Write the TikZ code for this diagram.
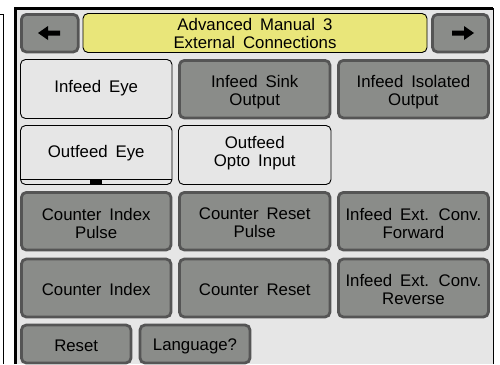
\documentclass[tikz,border=0pt]{standalone}
\usepackage{fontspec}
\setmainfont[WordSpace=1.7]{Liberation Sans}
\definecolor{panelbg}{HTML}{E6E6E6}
\definecolor{btngray}{HTML}{8A8C89}
\definecolor{btnedge}{HTML}{555555}
\definecolor{titley}{HTML}{E9E67A}
\tikzset{
  grayb/.style={rectangle,draw=btnedge,fill=btngray,line width=2.8pt,rounded corners=5pt,inner sep=0pt},
  whiteb/.style={rectangle,draw=black,fill=panelbg,line width=0.9pt,rounded corners=5pt,inner sep=0pt},
  titleb/.style={whiteb,fill=titley},
  lbl/.style={align=center,inner sep=0pt,text=black,font=\fontsize{16.8}{18}\selectfont},
}
% style, name, x0, x1, y0, y1, downward text shift, text
\newcommand{\btn}[8]{\node[#1,minimum width=#4-#3,minimum height=#6-#5,label={[lbl,yshift=-#7pt]center:{#8}}] (#2) at ({(#3+#4)/2},{(#5+#6)/2}) {};}
\begin{document}
\begin{tikzpicture}[x=1pt,y=-1pt]
\useasboundingbox (0,0) rectangle (500,364);
\fill[white] (0,0) rectangle (500,364);
\draw[black,line width=1pt] (0,14.5) -- (3.5,14.5) -- (3.5,364);
\fill[panelbg] (15,8) rectangle (493,364);
\draw[black,line width=2.8pt] (15.4,364) -- (15.4,8.4) -- (493,8.4);
\draw[black,line width=1pt] (493,8) -- (493,364);
\btn{grayb}{back}{21.4}{78.2}{14.4}{52}{0}{}
\btn{titleb}{title}{83}{427}{13.5}{52.5}{0.5}{Advanced Manual 3\\External Connections}
\btn{grayb}{fwd}{432.4}{488.4}{14.4}{52}{0}{}
\btn{whiteb}{a1}{20.5}{172}{59.5}{118.5}{-1}{Infeed Eye}
\btn{grayb}{a2}{179.4}{330}{60.4}{118}{3}{Infeed Sink\\Output}
\btn{grayb}{a3}{338.4}{488.4}{60.4}{118}{3}{Infeed Isolated\\Output}
\btn{whiteb}{b1}{20.5}{172}{125.5}{184.5}{-1.5}{Outfeed Eye}
\btn{whiteb}{b2}{178.5}{331}{125.5}{184.5}{-1.5}{Outfeed\\Opto Input}
\btn{grayb}{c1}{21.4}{171}{192.4}{250}{2}{Counter Index\\Pulse}
\btn{grayb}{c2}{179.4}{330}{192.4}{250}{2}{Counter Reset\\Pulse}
\btn{grayb}{c3}{338.4}{488.4}{192.4}{250}{2}{Infeed Ext. Conv.\\Forward}
\btn{grayb}{d1}{21.4}{171}{259}{317}{1.5}{Counter Index}
\btn{grayb}{d2}{179.4}{330}{259}{317}{1.5}{Counter Reset}
\btn{grayb}{d3}{338.4}{488.4}{259}{317}{1.7}{Infeed Ext. Conv.\\Reverse}
\btn{grayb}{e1}{21.4}{131}{325}{363}{1.5}{Reset}
\btn{grayb}{e2}{140}{250}{325}{363}{2.5}{Language?}
\draw[black,line width=0.9pt] (b1.west |- 0,179.5) -- (b1.east |- 0,179.5);
\fill[black] (90,179) rectangle (102,185);
\fill[black] (49,33)+(-11,0) -- +(-1,-7) -- +(-1,-2.5) -- +(11,-2.5) -- +(11,2.5) -- +(-1,2.5) -- +(-1,7) -- cycle;
\fill[black] (463,33)+(11,0) -- +(1,-7) -- +(1,-2.5) -- +(-11,-2.5) -- +(-11,2.5) -- +(1,2.5) -- +(1,7) -- cycle;
\end{tikzpicture}
\end{document}
